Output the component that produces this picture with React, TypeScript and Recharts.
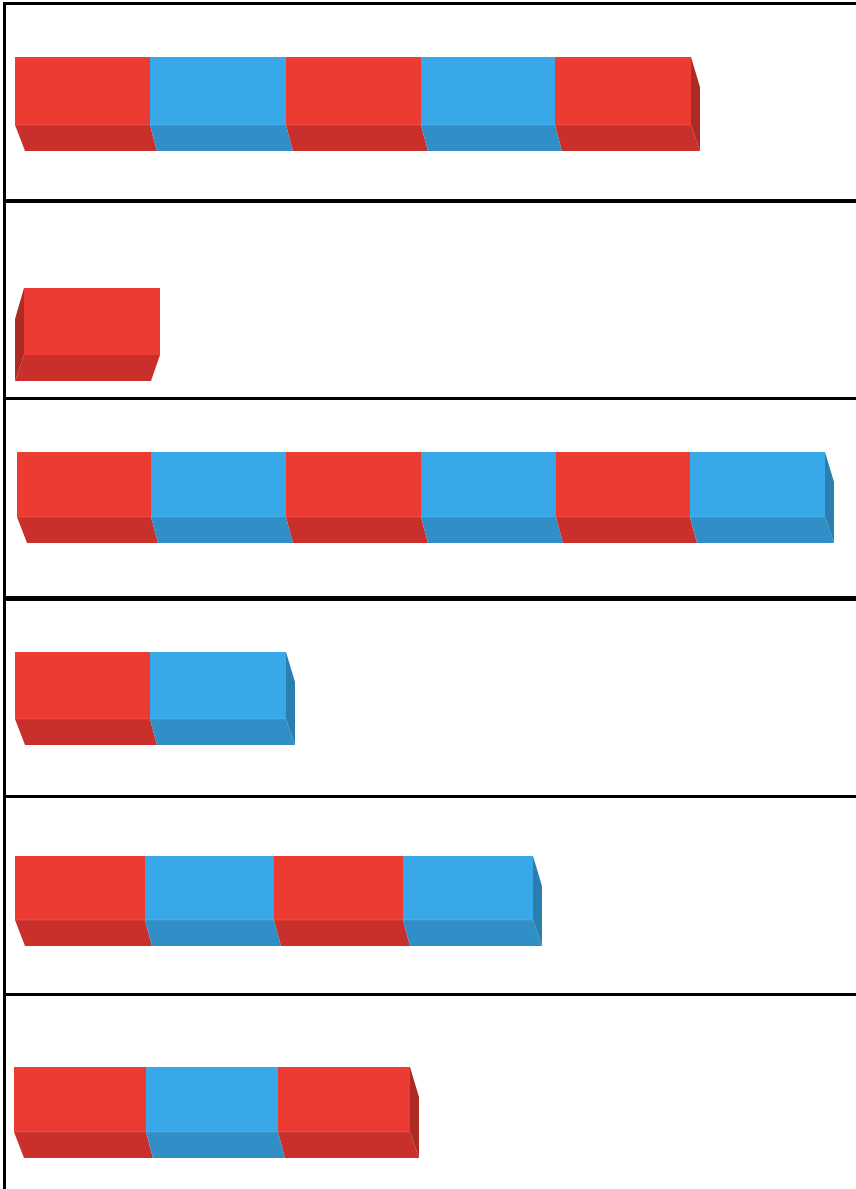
import { BarChart, Bar, XAxis, YAxis } from 'recharts';

// block lengths of each row, left to right
const row1 = [135, 136, 135, 134, 136];
const row2 = [136];
const row3 = [134, 135, 135, 135, 134, 135];
const row4 = [135, 136];
const row5 = [130, 129, 129, 130];
const row6 = [132, 132, 132];

const rows = [row1, row2, row3, row4, row5, row6];
const mirrored = [false, true, false, false, false, false];

const RED = { front: '#ec3b33', bottom: '#c9302b', side: '#ad2a25' };
const BLUE = { front: '#38a8e8', bottom: '#2f8fc6', side: '#2a7fb0' };

// panel geometry (px)
const panels = [
  { line: 2, thick: 3, top: 57, h: 68, left: 15 },
  { line: 199, thick: 4, top: 288, h: 67, left: 24 },
  { line: 397, thick: 3, top: 452, h: 65, left: 17 },
  { line: 596, thick: 5, top: 652, h: 67, left: 15 },
  { line: 795, thick: 3, top: 856, h: 64, left: 15 },
  { line: 993, thick: 3, top: 1067, h: 65, left: 14 },
];

const DEPTH = 26;
const PAD = 10;

function makeShape(i: number, n: number, mirror: boolean) {
  const c = i % 2 === 0 ? RED : BLUE;
  return (props: any) => {
    const { x, y, width: w, height: h } = props;
    if (w == null || h == null) return <g />;
    const yb = y + h;
    if (mirror) {
      const bottom = `${x},${yb} ${x + w},${yb} ${x + w - 9},${yb + DEPTH} ${x - 9},${yb + DEPTH}`;
      const side = `${x},${y} ${x - 9},${y + 31} ${x - 9},${yb + DEPTH} ${x},${yb}`;
      return (
        <g>
          <polygon points={bottom} fill={c.bottom} />
          {i === 0 && <polygon points={side} fill={c.side} />}
          <rect x={x} y={y} width={w} height={h} fill={c.front} />
        </g>
      );
    }
    const L = i === 0 ? 10 : 7;
    const R = i === n - 1 ? 9 : 7;
    const bottom = `${x},${yb} ${x + w},${yb} ${x + w + R},${yb + DEPTH} ${x + L},${yb + DEPTH}`;
    const side = `${x + w},${y} ${x + w + 9},${y + 30} ${x + w + 9},${yb + DEPTH} ${x + w},${yb}`;
    return (
      <g>
        <polygon points={bottom} fill={c.bottom} />
        {i === n - 1 && <polygon points={side} fill={c.side} />}
        <rect x={x} y={y} width={w} height={h} fill={c.front} />
        <line x1={x} x2={x + w} y1={yb} y2={yb} stroke="#ffffff" strokeOpacity={0.12} />
      </g>
    );
  };
}

function RowChart({ idx }: { idx: number }) {
  const p = panels[idx];
  const blocks = rows[idx];
  const chartTop = p.line;
  const chartBottom = idx < panels.length - 1 ? panels[idx + 1].line : 1189;
  const chartH = chartBottom - chartTop;
  const datum: Record<string, any> = { name: `row${idx + 1}` };
  blocks.forEach((v, i) => (datum[`s${i}`] = v));
  const plotW = 856 - p.left;
  return (
    <div style={{ position: 'absolute', left: 0, top: chartTop }}>
      <BarChart
        width={856}
        height={chartH}
        data={[datum]}
        layout="vertical"
        barCategoryGap="0%"
        margin={{
          top: p.top - chartTop - PAD,
          bottom: chartH - (p.top + p.h - chartTop) - PAD,
          left: p.left,
          right: 0,
        }}
      >
        <XAxis type="number" hide domain={[0, plotW]} />
        <YAxis type="category" dataKey="name" hide />
        {blocks.map((_, i) => (
          <Bar
            key={i}
            dataKey={`s${i}`}
            stackId="a"
            barSize={p.h}
            isAnimationActive={false}
            shape={makeShape(i, blocks.length, mirrored[idx])}
          />
        ))}
      </BarChart>
    </div>
  );
}

export default function App() {
  return (
    <div style={{ position: 'absolute', left: 0, top: 0, width: 856, height: 1189, background: '#fff', overflow: 'hidden' }}>
      {rows.map((_, i) => (
        <RowChart key={i} idx={i} />
      ))}
      {panels.map((p, i) => (
        <div key={i} style={{ position: 'absolute', left: 3, top: p.line, width: 853, height: p.thick, background: '#000' }} />
      ))}
      <div style={{ position: 'absolute', left: 3, top: 2, width: 3, height: 1187, background: '#000' }} />
    </div>
  );
}
